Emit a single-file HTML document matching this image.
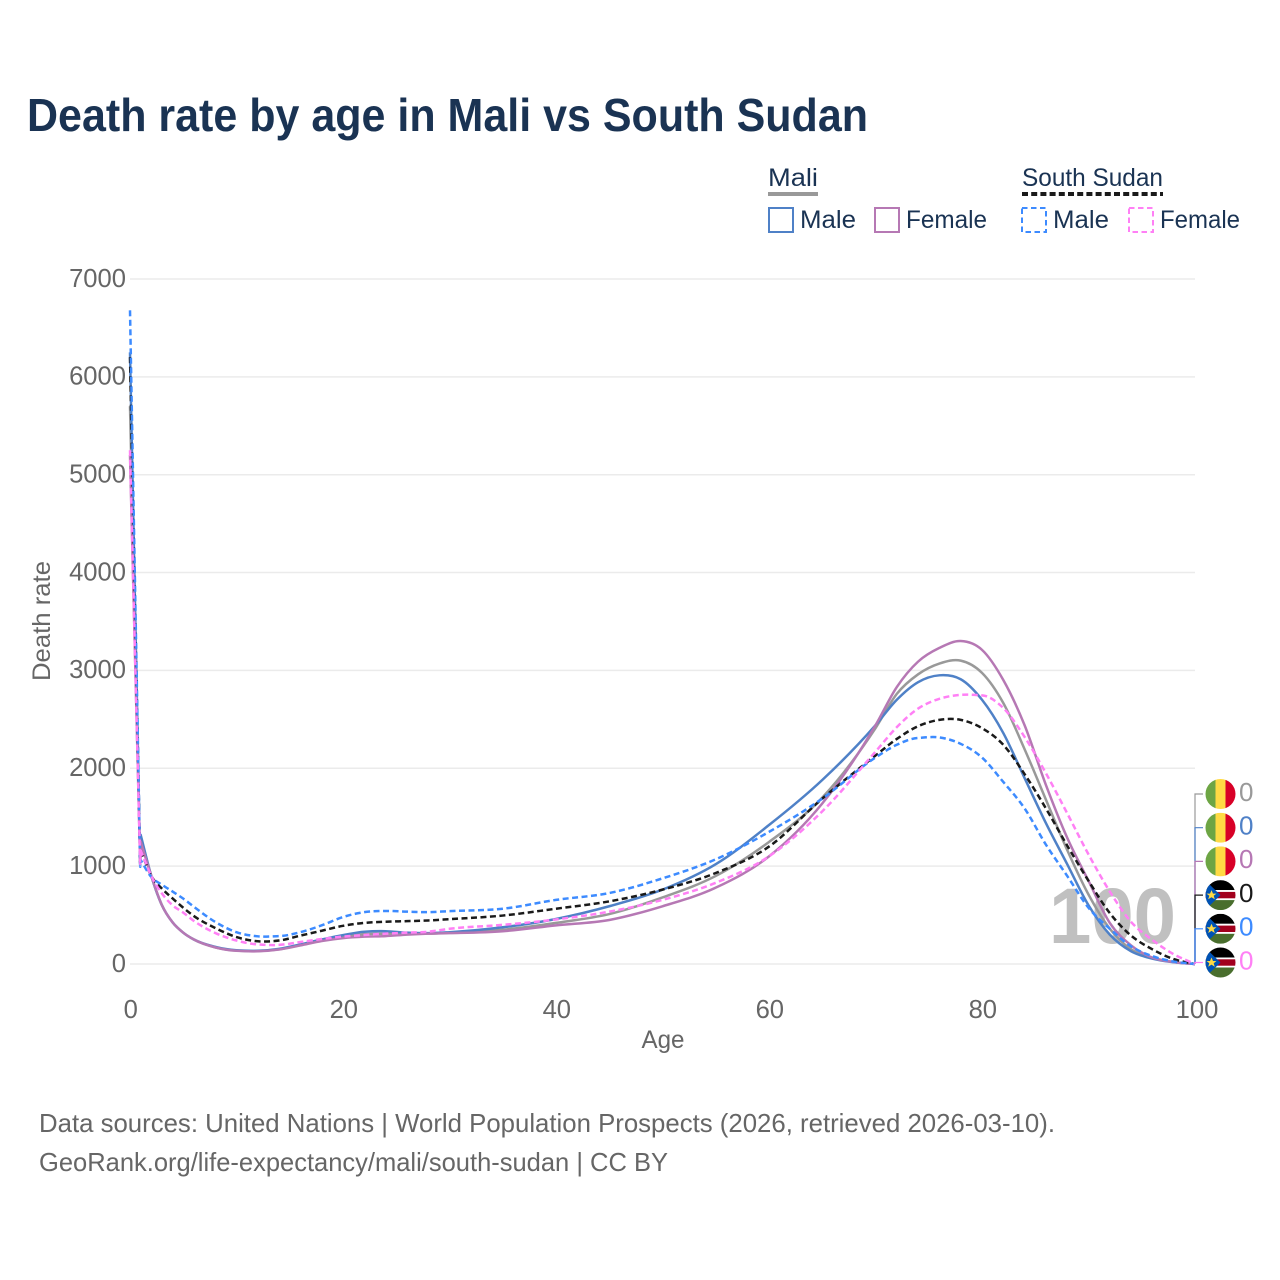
<!DOCTYPE html>
<html lang="en">
<head>
<meta charset="utf-8">
<title>Death rate by age in Mali vs South Sudan</title>
<style>
html,body{margin:0;padding:0;background:#fff;}
svg{display:block;font-family:"Liberation Sans",sans-serif;}
</style>
</head>
<body>
<svg id="chart" xmlns="http://www.w3.org/2000/svg" width="1280" height="1280" viewBox="0 0 1280 1280">
  <rect x="0" y="0" width="1280" height="1280" fill="#fff"/>
  <text x="27" y="131" font-size="46" font-weight="700" fill="#1a3353" textLength="841" lengthAdjust="spacingAndGlyphs">Death rate by age in Mali vs South Sudan</text>

  <g>
    <text x="768" y="186" font-size="25" fill="#1a3353" textLength="50" lengthAdjust="spacingAndGlyphs">Mali</text>
    <rect x="768" y="192" width="50" height="4" fill="#999"/>
    <rect x="769" y="208" width="24" height="24" fill="none" stroke="#4f81c7" stroke-width="2"/>
    <text x="800" y="228" font-size="25" fill="#1a3353" textLength="56" lengthAdjust="spacingAndGlyphs">Male</text>
    <rect x="875" y="208" width="24" height="24" fill="none" stroke="#b678b4" stroke-width="2"/>
    <text x="906" y="228" font-size="25" fill="#1a3353" textLength="81" lengthAdjust="spacingAndGlyphs">Female</text>

    <text x="1022" y="186" font-size="25" fill="#1a3353" textLength="141" lengthAdjust="spacingAndGlyphs">South Sudan</text>
    <line x1="1022" y1="194" x2="1163" y2="194" stroke="#1a1a1a" stroke-width="4" stroke-dasharray="6 3.2"/>
    <rect x="1022" y="208" width="24" height="24" fill="none" stroke="#3d8bff" stroke-width="2" stroke-dasharray="5.5 3.5"/>
    <text x="1053" y="228" font-size="25" fill="#1a3353" textLength="56" lengthAdjust="spacingAndGlyphs">Male</text>
    <rect x="1129" y="208" width="24" height="24" fill="none" stroke="#ff80f5" stroke-width="2" stroke-dasharray="5.5 3.5"/>
    <text x="1160" y="228" font-size="25" fill="#1a3353" textLength="80" lengthAdjust="spacingAndGlyphs">Female</text>
  </g>

  <g id="grid"></g>
  <g id="yticks"></g>
  <g id="xticks"></g>

  <text transform="translate(50,621) rotate(-90)" text-anchor="middle" font-size="25" fill="#666" textLength="120" lengthAdjust="spacingAndGlyphs">Death rate</text>
  <text x="663" y="1048" text-anchor="middle" font-size="25" fill="#666" textLength="43" lengthAdjust="spacingAndGlyphs">Age</text>

  <text x="1049" y="943" font-size="79" font-weight="700" fill="#c0c0c0" textLength="127" lengthAdjust="spacingAndGlyphs">100</text>

  <g id="series"></g>
  <g id="ends"></g>

  <text x="39" y="1132" font-size="26" fill="#666" textLength="1016" lengthAdjust="spacingAndGlyphs">Data sources: United Nations | World Population Prospects (2026, retrieved 2026-03-10).</text>
  <text x="39" y="1171" font-size="26" fill="#666" textLength="629" lengthAdjust="spacingAndGlyphs">GeoRank.org/life-expectancy/mali/south-sudan | CC BY</text>
</svg>
<script>
const ages = [0,0.95,1,2,3,4,5,6,8,10,12,14,16,18,20,22,24,26,28,30,35,40,45,50,55,60,65,70,72,74,76,78,80,82,84,86,88,90,92,94,96,98,100];
const maliTotal = [5700,1050,1300,900,600,425,320,250,170,137,132,150,195,245,280,305,310,310,310,320,350,420,510,680,900,1247,1700,2410,2760,2960,3070,3100,2975,2667,2195,1680,1165,710,360,150,65,20,0];
const maliMale = [6250,1050,1320,900,600,425,320,250,175,140,135,155,200,250,295,330,335,320,315,325,375,460,590,760,1020,1420,1880,2440,2700,2880,2950,2910,2700,2360,1900,1440,1020,600,300,130,55,18,0];
const maliFemale = [5200,1050,1250,900,600,425,320,250,170,135,130,148,190,235,265,280,285,300,310,315,335,395,450,590,780,1100,1640,2440,2830,3090,3230,3300,3210,2902,2440,1830,1290,850,420,190,65,20,0];
const sudanTotal = [6200,1040,1165,900,770,670,575,490,368,275,232,240,290,340,390,420,432,438,445,458,495,565,640,760,930,1200,1690,2130,2300,2430,2495,2495,2410,2240,1940,1590,1210,850,520,290,150,50,0];
const sudanMale = [6680,1030,1063,889,810,740,668,585,430,325,283,285,325,395,480,530,542,535,530,540,565,655,725,875,1070,1350,1690,2110,2240,2310,2315,2250,2110,1860,1590,1220,900,575,360,180,80,25,0];
const sudanFemale = [5250,1040,1165,900,720,600,525,440,317,240,200,195,225,255,280,296,310,320,330,360,400,455,535,655,830,1100,1560,2170,2420,2610,2710,2750,2745,2616,2320,1950,1540,1120,740,430,245,100,0];
const yTickValues = [0,1000,2000,3000,4000,5000,6000,7000];
const xTickValues = [0,20,40,60,80,100];
const endValues = [0,0,0,0,0,0];
const endCountries = ['mali','mali','mali','south-sudan','south-sudan','south-sudan'];
const endGroups = ['total','male','female','total','male','female'];

const NS = 'http://www.w3.org/2000/svg';
const xScale = a => 130 + a * 10.65;
const yScale = v => 964 - v * 0.09786;

function make(parent, tag, attrs, text) {
  const el = document.createElementNS(NS, tag);
  for (const k in attrs) el.setAttribute(k, attrs[k]);
  if (text !== undefined) el.textContent = text;
  parent.appendChild(el);
  return el;
}

function smoothPath(pts) {
  const n = pts.length, m = [], d = [];
  for (let i = 0; i < n - 1; i++) d[i] = (pts[i+1][1] - pts[i][1]) / (pts[i+1][0] - pts[i][0]);
  m[0] = d[0]; m[n-1] = d[n-2];
  for (let i = 1; i < n - 1; i++) {
    const h0 = pts[i][0] - pts[i-1][0], h1 = pts[i+1][0] - pts[i][0];
    if (h1 < 2) { m[i] = d[i-1]; continue; }
    if (h0 < 2) { m[i] = d[i]; continue; }
    const w = (h1 * d[i-1] + h0 * d[i]) / (h0 + h1);
    if (d[i-1] * d[i] <= 0) { m[i] = w; continue; }
    m[i] = Math.sign(w) * Math.min(3 * Math.abs(d[i-1]), 3 * Math.abs(d[i]), Math.abs(w));
  }
  let s = 'M' + pts[0][0].toFixed(2) + ' ' + pts[0][1].toFixed(2);
  for (let i = 0; i < n - 1; i++) {
    const h = (pts[i+1][0] - pts[i][0]) / 3;
    s += 'C' + (pts[i][0]+h).toFixed(2) + ' ' + (pts[i][1]+m[i]*h).toFixed(2) + ' ' +
         (pts[i+1][0]-h).toFixed(2) + ' ' + (pts[i+1][1]-m[i+1]*h).toFixed(2) + ' ' +
         pts[i+1][0].toFixed(2) + ' ' + pts[i+1][1].toFixed(2);
  }
  return s;
}

const gridG = document.getElementById('grid');
const yTickG = document.getElementById('yticks');
yTickValues.forEach(v => {
  const line = make(gridG, 'line', {x1:130, x2:1195, y1:yScale(v), y2:yScale(v), stroke:'#ebebeb', 'stroke-width':1.5});
  
  
  const t = make(yTickG, 'text', {x:126, y:yScale(v)+7.8, 'text-anchor':'end', 'font-size':25.6, fill:'#666'}, String(v));
  
  
});
const xTickG = document.getElementById('xticks');
xTickValues.forEach(v => {
  const t = make(xTickG, 'text', {x:xScale(v)+(v===100?2:0.8), y:1018, 'text-anchor':'middle', 'font-size':25.6, fill:'#666'}, String(v));
  
  
});

const seriesDefs = [
  {name:'mali-total', values:maliTotal, color:'#999999', dash:''},
  {name:'mali-male', values:maliMale, color:'#4f81c7', dash:''},
  {name:'mali-female', values:maliFemale, color:'#b678b4', dash:''},
  {name:'south-sudan-total', values:sudanTotal, color:'#1a1a1a', dash:'6 3.5'},
  {name:'south-sudan-male', values:sudanMale, color:'#3d8bff', dash:'6 3.5'},
  {name:'south-sudan-female', values:sudanFemale, color:'#ff80f5', dash:'6 3.5'}
];
const seriesG = document.getElementById('series');
seriesDefs.forEach(sd => {
  const pts = ages.map((a, i) => [xScale(a), yScale(sd.values[i])]);
  const p = make(seriesG, 'path', {d:smoothPath(pts), fill:'none', stroke:sd.color, 'stroke-width':2.5, 'stroke-linejoin':'round'});
  if (sd.dash) p.setAttribute('stroke-dasharray', sd.dash);
  
  
});

const endsG = document.getElementById('ends');
const defs = make(endsG, 'defs', {});
endValues.forEach((v, i) => {
  const sd = seriesDefs[i];
  const ly = 794 + i * 33.7;
  const startY = yScale(sd.values[sd.values.length - 1]);
  const conn = make(endsG, 'path', {d:'M1195 ' + startY + 'V' + ly + 'H1203', fill:'none', stroke:sd.color, 'stroke-width':1.2});
  
  

  const cid = 'flagclip' + i;
  const clip = make(defs, 'clipPath', {id:cid});
  make(clip, 'circle', {cx:1220.5, cy:ly, r:15});
  const flag = make(endsG, 'g', {'clip-path':'url(#' + cid + ')'});
  
  
  if (endCountries[i] === 'mali') {
    make(flag, 'rect', {x:1205, y:ly-15, width:11, height:30, fill:'#6da544'});
    make(flag, 'rect', {x:1215.5, y:ly-15, width:10.5, height:30, fill:'#ffda44'});
    make(flag, 'rect', {x:1225.5, y:ly-15, width:11, height:30, fill:'#d80027'});
  } else {
    make(flag, 'rect', {x:1205, y:ly-15, width:31, height:10, fill:'#000'});
    make(flag, 'rect', {x:1205, y:ly-5, width:31, height:10, fill:'#fff'});
    make(flag, 'rect', {x:1205, y:ly-3.2, width:31, height:6.4, fill:'#a2001d'});
    make(flag, 'rect', {x:1205, y:ly+5, width:31, height:10, fill:'#496e2d'});
    make(flag, 'polygon', {points:'1205,' + (ly-15) + ' 1220.5,' + ly + ' 1205,' + (ly+15), fill:'#0052b4'});
    make(flag, 'polygon', {points:[[1211.5,-5],[1213,-1.5],[1216.5,-1.5],[1213.7,0.7],[1214.8,4.2],[1211.5,2.1],[1208.2,4.2],[1209.3,0.7],[1206.5,-1.5],[1210,-1.5]].map(p => p[0] + ',' + (ly + p[1])).join(' '), fill:'#ffda44'});
  }
  const t = make(endsG, 'text', {x:1239, y:ly+6.8, 'font-size':26, fill:sd.color}, String(v));
  
  
});
</script>
</body>
</html>
